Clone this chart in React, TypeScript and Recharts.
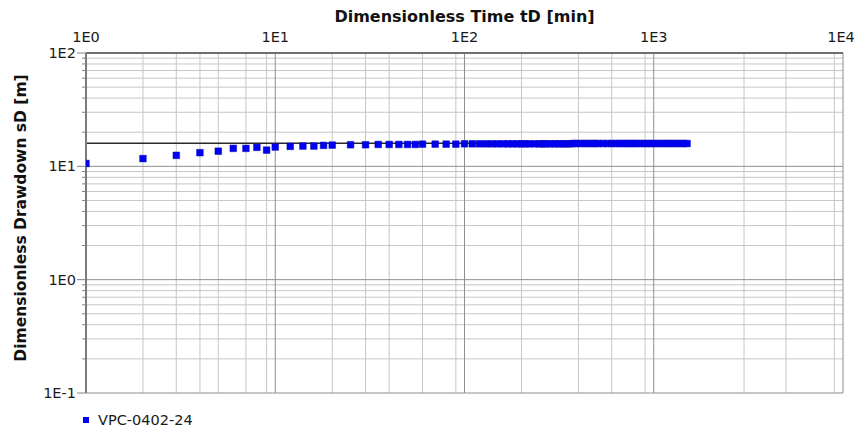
import React from "react";
import {
  CartesianGrid,
  ComposedChart,
  Line,
  Scatter,
  XAxis,
  YAxis,
  ZAxis,
} from "recharts";

// time tD [min]
const times = [
  1, 2, 3, 4, 5, 6, 7, 8, 9, 10, 12, 14, 16, 18, 20, 25, 30, 35, 40, 45, 50,
  55, 60, 70, 80, 90, 100, 110, 120, 130, 140, 150, 160, 170, 180, 190, 200,
  210, 220, 235, 250, 260, 270, 285, 300, 315, 330, 345, 360, 375, 390, 410,
  430, 450, 470, 490, 510, 540, 570, 600, 630, 660, 690, 720, 750, 780, 810,
  850, 890, 930, 970, 1010, 1060, 1110, 1160, 1210, 1260, 1320, 1380, 1440,
  1500,
];

// drawdown sD [m]
const drawdowns = [
  10.6, 11.7, 12.5, 13.2, 13.6, 14.4, 14.4, 14.7, 13.9, 14.8, 15.0, 15.1, 15.1,
  15.3, 15.4, 15.5, 15.5, 15.6, 15.6, 15.6, 15.6, 15.6, 15.7, 15.7, 15.7, 15.7,
  15.8, 15.8, 15.8, 15.8, 15.8, 15.8, 15.8, 15.8, 15.8, 15.8, 15.8, 15.8, 15.8,
  15.8, 15.8, 15.8, 15.8, 15.8, 15.8, 15.8, 15.8, 15.8, 15.8, 15.9, 15.9, 15.9,
  15.9, 15.9, 15.9, 15.9, 15.9, 15.9, 15.9, 15.9, 15.9, 15.9, 15.9, 15.9, 15.9,
  15.9, 15.9, 15.9, 15.9, 15.9, 15.9, 15.9, 15.9, 15.9, 15.9, 15.9, 15.9, 15.9,
  15.9, 15.9, 15.9,
];

// fitted line
const fitTimes = [1, 1500];
const fitDrawdowns = [16, 16];

const xMajorTicks = [1, 10, 100, 1000, 10000];
const xMinorTicks = [
  2, 3, 4, 5, 6, 7, 8, 9, 20, 30, 40, 50, 60, 70, 80, 90, 200, 300, 400, 500,
  600, 700, 800, 900, 2000, 3000, 4000, 5000, 6000, 7000, 8000, 9000,
];
const yMajorTicks = [0.1, 1, 10, 100];
const yMinorTicks = [
  0.2, 0.3, 0.4, 0.5, 0.6, 0.7, 0.8, 0.9, 2, 3, 4, 5, 6, 7, 8, 9, 20, 30, 40,
  50, 60, 70, 80, 90,
];

const seriesName = "VPC-0402-24";

const points = times.map((t, i) => ({ t, s: drawdowns[i] }));
const fitLine = fitTimes.map((t, i) => ({ t, s: fitDrawdowns[i] }));

const FONT = "'DejaVu Sans', Verdana, sans-serif";
const sci = (v: number) => "1E" + Math.round(Math.log10(v));

function XTick({ x, y, payload }: any) {
  return (
    <text x={x} y={y - 11} textAnchor="middle" fontSize={14.5} fill="#1a1a1a" fontFamily={FONT}>
      {sci(payload.value)}
    </text>
  );
}

function YTick({ x, y, payload }: any) {
  const major = yMajorTicks.includes(payload.value);
  return (
    <g>
      <line x1={x - (major ? 9 : 4)} x2={x} y1={y} y2={y} stroke="#808080" />
      {major && (
        <text x={x - 10} y={y + 5} textAnchor="end" fontSize={14.5} fill="#1a1a1a" fontFamily={FONT}>
          {sci(payload.value)}
        </text>
      )}
    </g>
  );
}

export default function App() {
  return (
    <div
      style={{
        position: "absolute",
        left: 0,
        top: 0,
        width: 861,
        height: 434,
        background: "#fff",
        fontFamily: FONT,
      }}
    >
      <ComposedChart
        width={861}
        height={434}
        margin={{ top: 0, right: 18, bottom: 41, left: 0 }}
      >
        <CartesianGrid
          stroke="#c6c6c6"
          fill="none"
          verticalValues={xMinorTicks}
          horizontalValues={yMinorTicks}
        />
        <CartesianGrid
          stroke="#8e8e8e"
          fill="none"
          verticalValues={xMajorTicks}
          horizontalValues={yMajorTicks}
        />
        <XAxis
          dataKey="t"
          type="number"
          scale="log"
          orientation="top"
          domain={[1, 10000]}
          ticks={xMajorTicks}
          allowDataOverflow
          height={53}
          tickSize={0}
          tickMargin={0}
          tickLine={false}
          axisLine={{ stroke: "#6e6e6e", strokeWidth: 2 }}
          tick={<XTick />}
        />
        <YAxis
          dataKey="s"
          type="number"
          scale="log"
          domain={[0.1, 100]}
          ticks={[...yMajorTicks, ...yMinorTicks]}
          allowDataOverflow
          width={86}
          tickSize={0}
          tickMargin={0}
          tickLine={false}
          axisLine={{ stroke: "#7a7a7a", strokeWidth: 2 }}
          tick={<YTick />}
          interval={0}
        />
        <ZAxis range={[44, 44]} />
        <Line
          data={fitLine}
          dataKey="s"
          stroke="#2a2a2a"
          strokeWidth={1.5}
          dot={false}
          isAnimationActive={false}
        />
        <Scatter
          data={points}
          name={seriesName}
          shape="square"
          fill="#0000f5"
          stroke="#0000b0"
          strokeWidth={0.5}
          isAnimationActive={false}
        />
      </ComposedChart>
      <div
        style={{
          position: "absolute",
          left: 86,
          width: 757,
          top: 7,
          textAlign: "center",
          fontWeight: "bold",
          fontSize: 16,
          color: "#111",
          whiteSpace: "nowrap",
        }}
      >
        Dimensionless Time tD [min]
      </div>
      <div
        style={{
          position: "absolute",
          left: 21,
          top: 218,
          transform: "translate(-50%, -50%) rotate(-90deg)",
          fontWeight: "bold",
          fontSize: 15.5,
          color: "#111",
          whiteSpace: "nowrap",
        }}
      >
        Dimensionless Drawdown sD [m]
      </div>
      <div
        style={{
          position: "absolute",
          left: 83,
          top: 412,
          display: "flex",
          alignItems: "center",
          fontSize: 14.5,
          color: "#1a1a1a",
        }}
      >
        <span
          style={{
            display: "inline-block",
            width: 6,
            height: 6,
            background: "#0000f5",
            marginRight: 9,
          }}
        />
        {seriesName}
      </div>
    </div>
  );
}
